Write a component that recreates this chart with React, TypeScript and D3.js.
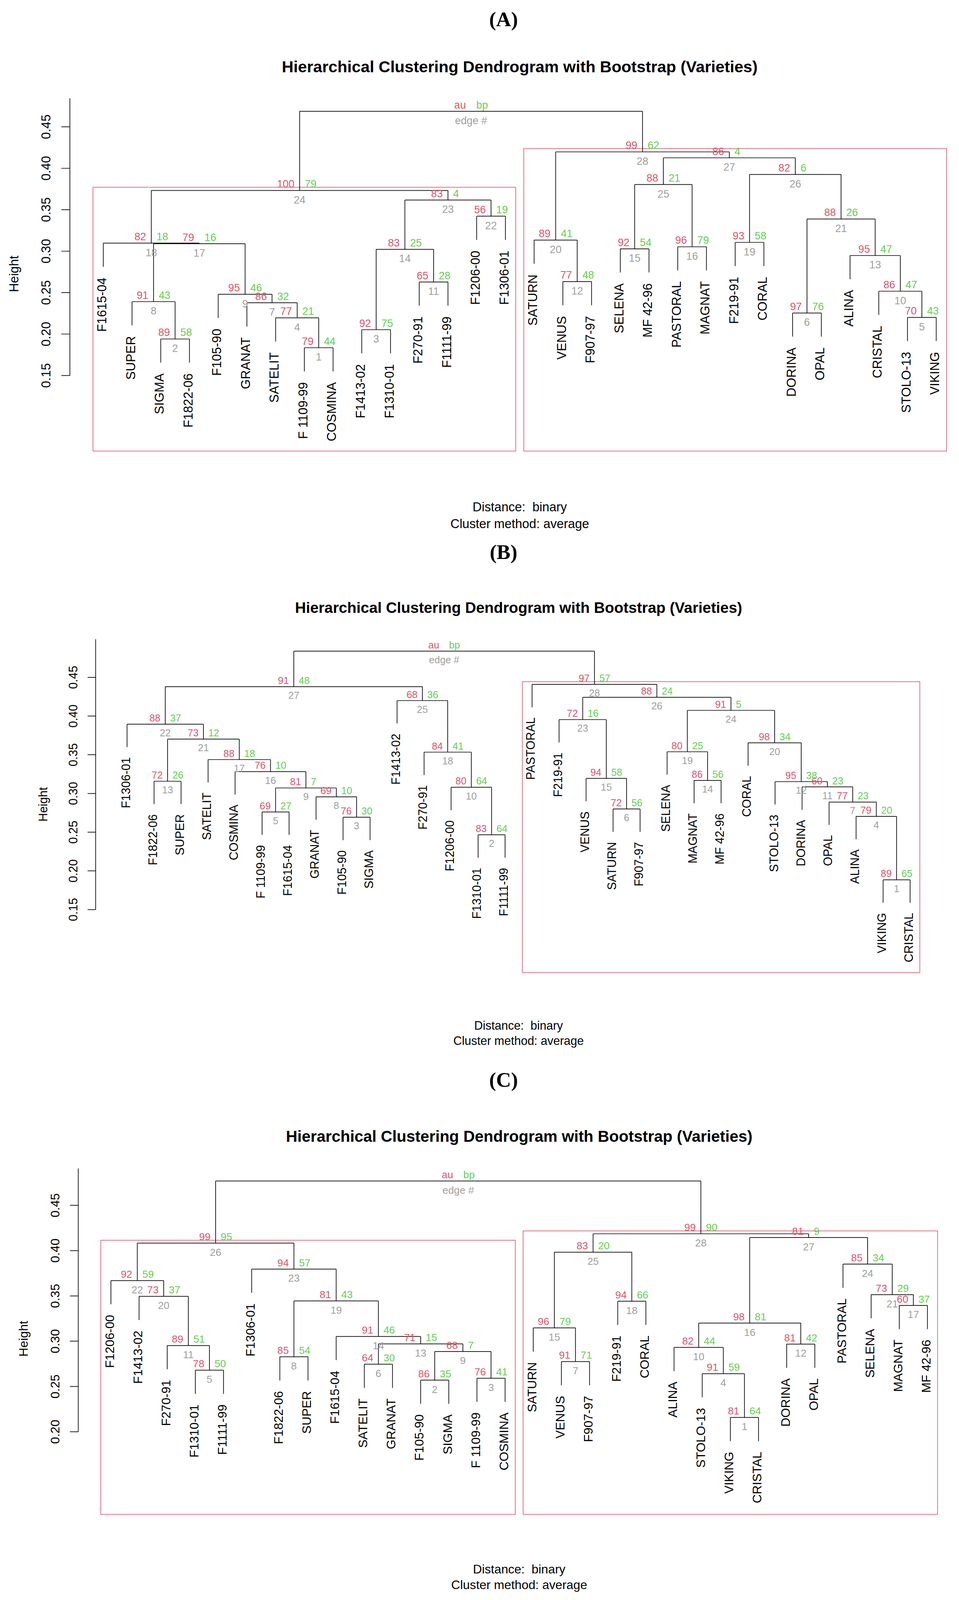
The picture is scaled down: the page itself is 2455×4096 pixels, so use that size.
import React from "react";
import * as d3 from "d3";

const W = 3329;
const H = 5554;
const FONT = "'Liberation Sans', Arial, Helvetica, sans-serif";
const SERIF = "'Liberation Serif', 'Times New Roman', serif";
const RED = "#DF536B";
const GREEN = "#61D04F";
const GRAY = "#9E9E9E";

const titleText = "Hierarchical Clustering Dendrogram with Bootstrap (Varieties)";
const xlabText = "Distance:  binary";
const subText = "Cluster method: average";

// ---------------- Panel A ----------------
const leavesA = ["F1615-04", "SUPER", "SIGMA", "F1822-06", "F105-90", "GRANAT", "SATELIT", "F 1109-99", "COSMINA", "F1413-02", "F1310-01", "F270-91", "F1111-99", "F1206-00", "F1306-01", "SATURN", "VENUS", "F907-97", "SELENA", "MF 42-96", "PASTORAL", "MAGNAT", "F219-91", "CORAL", "DORINA", "OPAL", "ALINA", "CRISTAL", "STOLO-13", "VIKING"];
// [left, right, height, au, bp]  (number = edge #, string = leaf)
const mergesA: any[] = [
  ["F 1109-99", "COSMINA", 0.1835, 79, 44],
  ["SIGMA", "F1822-06", 0.1941, 89, 58],
  ["F1413-02", "F1310-01", 0.2053, 92, 75],
  ["SATELIT", 1, 0.2196, 77, 21],
  ["STOLO-13", "VIKING", 0.2201, 70, 43],
  ["DORINA", "OPAL", 0.2254, 97, 76],
  ["GRANAT", 4, 0.2377, 86, 32],
  ["SUPER", 2, 0.2391, 91, 43],
  ["F105-90", 7, 0.2480, 95, 46],
  ["CRISTAL", 5, 0.2517, 86, 47],
  ["F270-91", "F1111-99", 0.2628, 65, 28],
  ["VENUS", "F907-97", 0.2633, 77, 48],
  ["ALINA", 10, 0.2947, 95, 47],
  [3, 11, 0.3022, 83, 25],
  ["SELENA", "MF 42-96", 0.3028, 92, 54],
  ["PASTORAL", "MAGNAT", 0.3053, 96, 79],
  [8, 9, 0.3090, 79, 16],
  ["F1615-04", 17, 0.3097, 82, 18],
  ["F219-91", "CORAL", 0.3106, 93, 58],
  ["SATURN", 12, 0.3134, 89, 41],
  [6, 13, 0.3388, 88, 26],
  ["F1206-00", "F1306-01", 0.3422, 56, 19],
  [14, 22, 0.3617, 83, 4],
  [18, 23, 0.3732, 100, 79],
  [15, 16, 0.3804, 88, 21],
  [19, 21, 0.3925, 82, 6],
  [25, 26, 0.4126, 86, 4],
  [20, 27, 0.4198, 99, 62],
];
const rootA = [24, 28, 0.4687];
const rectsA = [24, 28];
const ticksA = [0.15, 0.2, 0.25, 0.3, 0.35, 0.4, 0.45];

// ---------------- Panel B ----------------
const leavesB = ["F1306-01", "F1822-06", "SUPER", "SATELIT", "COSMINA", "F 1109-99", "F1615-04", "GRANAT", "F105-90", "SIGMA", "F1413-02", "F270-91", "F1206-00", "F1310-01", "F1111-99", "PASTORAL", "F219-91", "VENUS", "SATURN", "F907-97", "SELENA", "MAGNAT", "MF 42-96", "CORAL", "STOLO-13", "DORINA", "OPAL", "ALINA", "VIKING", "CRISTAL"];
const mergesB: any[] = [
  ["VIKING", "CRISTAL", 0.1884, 89, 65],
  ["F1310-01", "F1111-99", 0.2466, 83, 64],
  ["F105-90", "SIGMA", 0.2693, 76, 30],
  ["ALINA", 1, 0.2704, 79, 20],
  ["F 1109-99", "F1615-04", 0.2761, 69, 27],
  ["SATURN", "F907-97", 0.2800, 72, 56],
  ["OPAL", 4, 0.2889, 77, 23],
  ["GRANAT", 3, 0.2957, 69, 10],
  [5, 8, 0.3071, 81, 7],
  ["F1206-00", 2, 0.3080, 80, 64],
  ["DORINA", 7, 0.3085, 60, 23],
  ["STOLO-13", 11, 0.3153, 95, 38],
  ["F1822-06", "SUPER", 0.3158, 72, 26],
  ["MAGNAT", "MF 42-96", 0.3169, 86, 56],
  ["VENUS", 6, 0.3195, 94, 58],
  ["COSMINA", 9, 0.3282, 76, 10],
  ["SATELIT", 16, 0.3438, 88, 18],
  ["F270-91", 10, 0.3534, 84, 41],
  ["SELENA", 14, 0.3539, 80, 25],
  ["CORAL", 12, 0.3654, 98, 34],
  [13, 17, 0.3702, 73, 12],
  ["F1306-01", 21, 0.3895, 88, 37],
  ["F219-91", 15, 0.3954, 72, 16],
  [19, 20, 0.4074, 91, 5],
  ["F1413-02", 18, 0.4200, 68, 36],
  [23, 24, 0.4242, 88, 24],
  [22, 25, 0.4380, 91, 48],
  ["PASTORAL", 26, 0.4410, 97, 57],
];
const rootB = [27, 28, 0.4839];
const rectsB = [28];
const ticksB = [0.15, 0.2, 0.25, 0.3, 0.35, 0.4, 0.45];

// ---------------- Panel C ----------------
const leavesC = ["F1206-00", "F1413-02", "F270-91", "F1310-01", "F1111-99", "F1306-01", "F1822-06", "SUPER", "F1615-04", "SATELIT", "GRANAT", "F105-90", "SIGMA", "F 1109-99", "COSMINA", "SATURN", "VENUS", "F907-97", "F219-91", "CORAL", "ALINA", "STOLO-13", "VIKING", "CRISTAL", "DORINA", "OPAL", "PASTORAL", "SELENA", "MAGNAT", "MF 42-96"];
const mergesC: any[] = [
  ["VIKING", "CRISTAL", 0.2158, 81, 64],
  ["F105-90", "SIGMA", 0.2570, 86, 35],
  ["F 1109-99", "COSMINA", 0.2591, 76, 41],
  ["STOLO-13", 1, 0.2641, 91, 59],
  ["F1310-01", "F1111-99", 0.2680, 78, 50],
  ["SATELIT", "GRANAT", 0.2746, 64, 30],
  ["VENUS", "F907-97", 0.2775, 91, 71],
  ["F1822-06", "SUPER", 0.2828, 85, 54],
  [2, 3, 0.2886, 68, 7],
  ["ALINA", 4, 0.2931, 82, 44],
  ["F270-91", 5, 0.2952, 89, 51],
  ["DORINA", "OPAL", 0.2968, 81, 42],
  [6, 9, 0.2970, 71, 15],
  ["F1615-04", 13, 0.3052, 91, 46],
  ["SATURN", 7, 0.3147, 96, 79],
  [10, 12, 0.3200, 98, 81],
  ["MAGNAT", "MF 42-96", 0.3395, 60, 37],
  ["F219-91", "CORAL", 0.3441, 94, 66],
  [8, 14, 0.3445, 81, 43],
  ["F1413-02", 11, 0.3495, 73, 37],
  ["SELENA", 17, 0.3514, 73, 29],
  ["F1206-00", 20, 0.3669, 92, 59],
  ["F1306-01", 19, 0.3796, 94, 57],
  ["PASTORAL", 21, 0.3851, 85, 34],
  [15, 18, 0.3983, 83, 20],
  [22, 23, 0.4083, 99, 95],
  [16, 24, 0.4144, 81, 9],
  [25, 27, 0.4186, 99, 90],
];
const rootC = [26, 28, 0.4769];
const rectsC = [26, 28];
const ticksC = [0.2, 0.25, 0.3, 0.35, 0.4, 0.45];

// ---------------- Layout (positions in reference pixels) ----------------
const layoutA = { s: 1.0, x0: 358.6, x1: 3249.9, y045: 440.1, low: 0.15, yLow: 1303.5, axisX: 242.5, axisTop: 341, rectBottom: 1565.7, rectPad: 11.2, titleY: 250.7, distY: 1775.5, subY: 1832.7, letterY: 91, heightY: 950.7 };
const layoutB = { s: 0.94, x0: 441.1, x1: 3159.2, y045: 2351.3, low: 0.15, yLow: 3157.4, axisX: 332, axisTop: 2219, rectBottom: 3376, rectPad: 9.1, titleY: 2127, distY: 3574.6, subY: 3626.9, letterY: 1940, heightY: 2792 };
const layoutC = { s: 0.98, x0: 385, x1: 3219.5, y045: 4184.1, low: 0.2, yLow: 4970.1, axisX: 271.7, axisTop: 4056, rectBottom: 5256.7, rectPad: 9.9, titleY: 3964, distY: 5462.3, subY: 5516.7, letterY: 3772.8, heightY: 4647 };

function Panel({ leaves, merges, root, rects, ticks, letter, L }: any) {
  const s = L.s;
  const n = leaves.length;
  const x = d3.scaleLinear().domain([0, n - 1]).range([L.x0, L.x1]);
  const y = d3.scaleLinear().domain([0.45, L.low]).range([L.y045, L.yLow]);
  const dx = (L.x1 - L.x0) / (n - 1);
  const all: any[] = [...merges, [root[0], root[1], root[2], "au", "bp"]];
  const hs = all.map((m) => m[2]);
  const hang = 0.1 * ((d3.max(hs) as number) - (d3.min(hs) as number));

  const nx: number[] = [];
  const nh: number[] = [];
  const span: [number, number][] = [];
  const cx = (c: any) => (typeof c === "string" ? x(leaves.indexOf(c)) : nx[c]);
  const cspan = (c: any): [number, number] =>
    typeof c === "string" ? [leaves.indexOf(c), leaves.indexOf(c)] : span[c];
  all.forEach((m, i) => {
    nx[i + 1] = (cx(m[0]) + cx(m[1])) / 2;
    nh[i + 1] = m[2];
    const a = cspan(m[0]);
    const b = cspan(m[1]);
    span[i + 1] = [Math.min(a[0], b[0]), Math.max(a[1], b[1])];
  });

  const p = d3.path();
  const leafEnds: { name: string; x: number; y: number }[] = [];
  all.forEach((m) => {
    const yy = y(m[2]);
    const xl = cx(m[0]);
    const xr = cx(m[1]);
    p.moveTo(xl, yy);
    p.lineTo(xr, yy);
    [m[0], m[1]].forEach((c: any) => {
      const xc = cx(c);
      const yb = typeof c === "string" ? y(m[2] - hang) : y(nh[c]);
      p.moveTo(xc, yy);
      p.lineTo(xc, yb);
      if (typeof c === "string") leafEnds.push({ name: c, x: xc, y: yb });
    });
  });

  const axisPath = d3.path();
  axisPath.moveTo(L.axisX, y(ticks[0]));
  axisPath.lineTo(L.axisX, L.axisTop);
  ticks.forEach((t: number) => {
    axisPath.moveTo(L.axisX - 29.7 * s, y(t));
    axisPath.lineTo(L.axisX, y(t));
  });

  const numFs = 36.5 * s;
  const midX = (L.x0 + L.x1) / 2;

  return (
    <g>
      <text x={1748} y={L.letterY} textAnchor="middle" fontFamily={SERIF} fontWeight="bold" fontSize={72} fill="#000">
        {letter}
      </text>
      <text x={midX} y={L.titleY} textAnchor="middle" fontFamily={FONT} fontWeight="bold" fontSize={56 * s} fill="#000">
        {titleText}
      </text>
      {rects.map((e: number) => {
        const [lo, hi] = span[e];
        const xa = x(lo) - 0.36 * dx;
        const xb = x(hi) + 0.36 * dx;
        const yt = y(nh[e]) - L.rectPad;
        return (
          <rect key={"r" + e} x={xa} y={yt} width={xb - xa} height={L.rectBottom - yt} fill="none" stroke={RED} strokeWidth={2.2} />
        );
      })}
      <path d={p.toString()} fill="none" stroke="#000" strokeWidth={2.3} />
      <path d={axisPath.toString()} fill="none" stroke="#000" strokeWidth={2.3} />
      {ticks.map((t: number) => (
        <text key={"t" + t} transform={`translate(${L.axisX - 67.5 * s},${y(t)}) rotate(-90)`} textAnchor="middle" fontFamily={FONT} fontSize={44 * s} fill="#000">
          {t.toFixed(2)}
        </text>
      ))}
      <text transform={`translate(${L.axisX - 179.2 * s},${L.heightY}) rotate(-90)`} textAnchor="middle" fontFamily={FONT} fontSize={44 * s} fill="#000">
        Height
      </text>
      {leafEnds.map((le) => (
        <text key={"l" + le.name} transform={`translate(${le.x + 10.6 * s},${le.y + 37.5 * s}) rotate(-90)`} textAnchor="end" fontFamily={FONT} fontSize={44 * s} fill="#000" style={{ whiteSpace: "pre" }}>
          {le.name}
        </text>
      ))}
      {all.map((m, i) => {
        const xx = nx[i + 1];
        const yy = y(m[2]);
        const isRoot = i === all.length - 1;
        return (
          <g key={"n" + i} fontFamily={FONT} fontSize={numFs}>
            <text x={xx - 18 * s} y={yy - 10 * s} textAnchor="end" fill={RED}>{String(m[3])}</text>
            <text x={xx + 18 * s} y={yy - 10 * s} textAnchor="start" fill={GREEN}>{String(m[4])}</text>
            <text x={xx} y={yy + 45 * s} textAnchor="middle" fill={GRAY}>{isRoot ? "edge #" : String(i + 1)}</text>
          </g>
        );
      })}
      <text x={midX} y={L.distY} textAnchor="middle" fontFamily={FONT} fontSize={44 * s} fill="#000" style={{ whiteSpace: "pre" }}>
        {xlabText}
      </text>
      <text x={midX} y={L.subY} textAnchor="middle" fontFamily={FONT} fontSize={44 * s} fill="#000">
        {subText}
      </text>
    </g>
  );
}

export default function App() {
  return (
    <svg
      width={2455}
      height={4096}
      viewBox={`0 0 ${W} ${H}`}
      style={{ position: "absolute", left: 0, top: 0, display: "block", background: "#fff" }}
    >
      <rect x={0} y={0} width={W} height={H} fill="#fff" />
      <Panel leaves={leavesA} merges={mergesA} root={rootA} rects={rectsA} ticks={ticksA} letter="(A)" L={layoutA} />
      <Panel leaves={leavesB} merges={mergesB} root={rootB} rects={rectsB} ticks={ticksB} letter="(B)" L={layoutB} />
      <Panel leaves={leavesC} merges={mergesC} root={rootC} rects={rectsC} ticks={ticksC} letter="(C)" L={layoutC} />
    </svg>
  );
}
